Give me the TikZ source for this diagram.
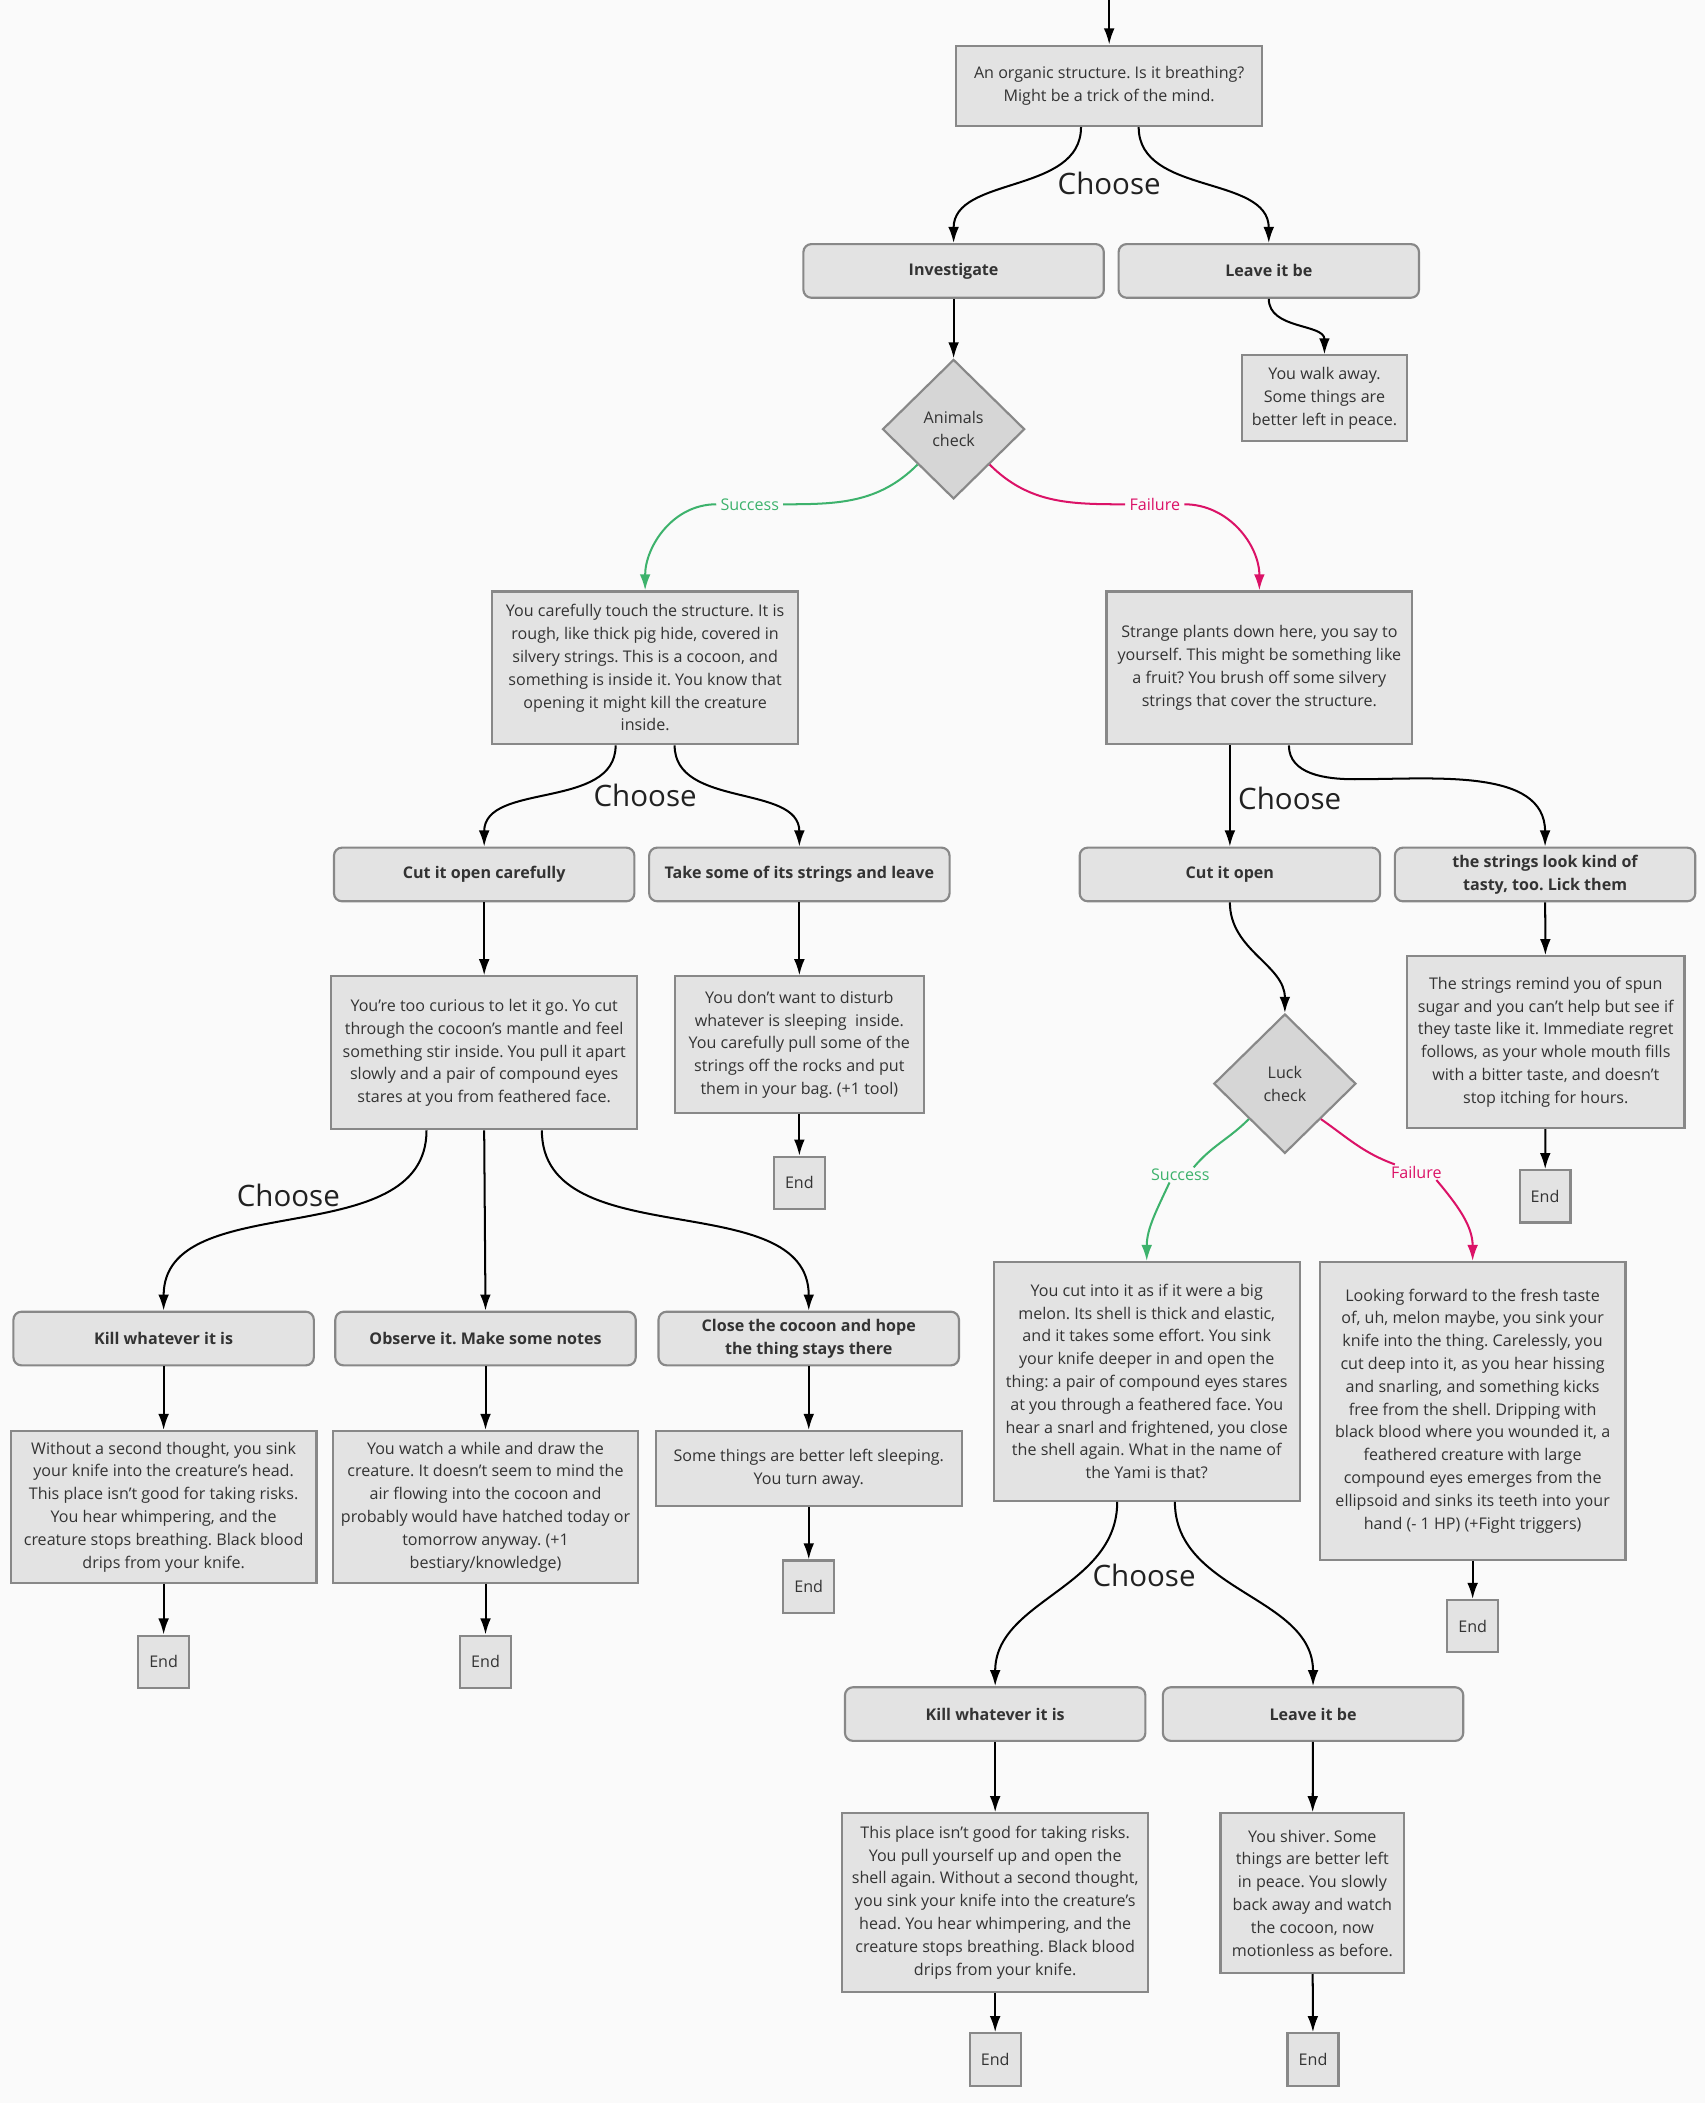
\documentclass[tikz,border=0pt]{standalone}
\usepackage{fontspec}
\setmainfont{Open Sans}
\usetikzlibrary{shapes.geometric,arrows.meta}
\definecolor{bgc}{RGB}{250,250,250}
\definecolor{boxfill}{RGB}{227,227,227}
\definecolor{checkfill}{RGB}{214,214,214}
\definecolor{boxline}{RGB}{136,136,136}
\definecolor{txt}{RGB}{51,51,51}
\definecolor{okgreen}{RGB}{61,178,108}
\definecolor{badpink}{RGB}{219,18,103}
\frenchspacing
\begin{document}
\begin{tikzpicture}[x=1pt,y=-1pt,
  story/.style={rectangle,draw=boxline,fill=boxfill,line width=1.6pt,text=txt,align=center,inner sep=0pt,
    font=\fontsize{12pt}{17pt}\selectfont},
  pick/.style={story,rounded corners=6pt,minimum width=224pt,minimum height=40pt,
    font=\fontsize{12pt}{17pt}\selectfont\bfseries},
  endbox/.style={story,minimum width=38pt,minimum height=39pt},
  check/.style={diamond,draw=boxline,fill=checkfill,line width=1.6pt,text=txt,align=center,inner sep=0pt,
    minimum width=106pt,minimum height=104pt,font=\fontsize{12pt}{17pt}\selectfont},
  choose/.style={text=black!87,inner sep=0pt,font=\fontsize{22pt}{26pt}\selectfont},
  okword/.style={text=okgreen,inner xsep=3pt,inner ysep=1pt,font=\fontsize{12pt}{14pt}\selectfont},
  badword/.style={text=badpink,inner xsep=3pt,inner ysep=1pt,font=\fontsize{12pt}{14pt}\selectfont},
  flow/.style={line width=1.5pt,-{Latex[length=12pt,width=8pt]}},
  okline/.style={draw=okgreen,line width=1.5pt},
  badline/.style={draw=badpink,line width=1.5pt},
  okflow/.style={okline,-{Latex[length=12pt,width=8pt]}},
  badflow/.style={badline,-{Latex[length=12pt,width=8pt]}}]
\fill[bgc] (0,0) rectangle (1271,1568);
\useasboundingbox (0,0) rectangle (1271,1568);

% start
\coordinate (entry) at (827,0);
\node[story,minimum width=228pt,minimum height=60pt] (organic) at (827,64)
  {An organic structure. Is it breathing?\\Might be a trick of the mind.};
\node[choose] (choose1) at (827,137) {Choose};
\node[pick] (investigate) at (711,202) {Investigate};
\node[pick] (leave) at (946,202) {Leave it be};
\node[story,minimum width=123pt,minimum height=64pt] (walk) at (987.5,297)
  {You walk away.\\Some things are\\better left in peace.};
\node[check] (animals) at (711,320) {Animals\\check};
\node[okword] (animalsok) at (559,376) {Success};
\node[badword] (animalsbad) at (861,376) {Failure};

% success side
\node[story,minimum width=228pt,minimum height=114pt] (touch) at (481,498)
  {You carefully touch the structure. It is\\rough, like thick pig hide, covered in\\silvery strings. This is a cocoon, and\\something is inside it. You know that\\opening it might kill the creature\\inside.};
\node[choose] (choose2) at (481,593) {Choose};
\node[pick] (cutcare) at (361,652) {Cut it open carefully};
\node[pick] (take) at (596,652) {Take some of its strings and leave};
\node[story,minimum width=228pt,minimum height=114pt] (curious) at (361,785)
  {You're too curious to let it go. Yo cut\\through the cocoon's mantle and feel\\something stir inside. You pull it apart\\slowly and a pair of compound eyes\\stares at you from feathered face.};
\node[story,minimum width=186pt,minimum height=102pt] (disturb) at (596,779)
  {You don't want to disturb\\whatever is sleeping\ \ inside.\\You carefully pull some of the\\strings off the rocks and put\\them in your bag. (+1 tool)};
\node[endbox] (end1) at (596,882) {End};
\node[choose] (choose3) at (215,891) {Choose};
\node[pick] (kill) at (122,998) {Kill whatever it is};
\node[pick] (observe) at (362,998) {Observe it. Make some notes};
\node[pick] (close) at (603,998) {Close the cocoon and hope\\the thing stays there};
\node[story,minimum width=228pt,minimum height=113pt] (sink) at (122,1123.5)
  {Without a second thought, you sink\\your knife into the creature's head.\\This place isn't good for taking risks.\\You hear whimpering, and the\\creature stops breathing. Black blood\\drips from your knife.};
\node[story,minimum width=228pt,minimum height=113pt] (watch) at (362,1123.5)
  {You watch a while and draw the\\creature. It doesn't seem to mind the\\air flowing into the cocoon and\\probably would have hatched today or\\tomorrow anyway. (+1\\bestiary/knowledge)};
\node[story,minimum width=228pt,minimum height=56pt] (sleeping) at (603,1095)
  {Some things are better left sleeping.\\You turn away.};
\node[endbox] (end2) at (122,1239) {End};
\node[endbox] (end3) at (362,1239) {End};
\node[endbox] (end4) at (603,1183) {End};

% failure side
\node[story,minimum width=228pt,minimum height=114pt] (plants) at (939,498)
  {Strange plants down here, you say to\\yourself. This might be something like\\a fruit? You brush off some silvery\\strings that cover the structure.};
\node[choose,anchor=west] (choose4) at (923,595) {Choose};
\node[pick] (cutopen) at (917,652) {Cut it open};
\node[pick] (lick) at (1152,652) {the strings look kind of\\tasty, too. Lick them};
\node[story,minimum width=207pt,minimum height=128pt] (sugar) at (1152.5,777)
  {The strings remind you of spun\\sugar and you can't help but see if\\they taste like it. Immediate regret\\follows, as your whole mouth fills\\with a bitter taste, and doesn't\\stop itching for hours.};
\node[endbox] (end5) at (1152,892) {End};
\node[check] (luck) at (958,808) {Luck\\check};
\node[okword] (luckok) at (880,876) {Success};
\node[badword] (luckbad) at (1056,874) {Failure};
\node[story,minimum width=228pt,minimum height=178pt] (melon) at (855,1030)
  {You cut into it as if it were a big\\melon. Its shell is thick and elastic,\\and it takes some effort. You sink\\your knife deeper in and open the\\thing: a pair of compound eyes stares\\at you through a feathered face. You\\hear a snarl and frightened, you close\\the shell again. What in the name of\\the Yami is that?};
\node[story,minimum width=228pt,minimum height=222pt] (forward) at (1098,1052)
  {Looking forward to the fresh taste\\of, uh, melon maybe, you sink your\\knife into the thing. Carelessly, you\\cut deep into it, as you hear hissing\\and snarling, and something kicks\\free from the shell. Dripping with\\black blood where you wounded it, a\\feathered creature with large\\compound eyes emerges from the\\ellipsoid and sinks its teeth into your\\hand (- 1 HP) (+Fight triggers)};
\node[endbox] (end6) at (1098,1212.5) {End};
\node[choose] (choose5) at (853,1175) {Choose};
\node[pick] (kill2) at (742,1278) {Kill whatever it is};
\node[pick] (leave2) at (979,1278) {Leave it be};
\node[story,minimum width=228pt,minimum height=133pt] (risks) at (742,1418.5)
  {This place isn't good for taking risks.\\You pull yourself up and open the\\shell again. Without a second thought,\\you sink your knife into the creature's\\head. You hear whimpering, and the\\creature stops breathing. Black blood\\drips from your knife.};
\node[story,minimum width=137pt,minimum height=119pt] (shiver) at (978.5,1411.5)
  {You shiver. Some\\things are better left\\in peace. You slowly\\back away and watch\\the cocoon, now\\motionless as before.};
\node[endbox] (end7) at (742,1535.5) {End};
\node[endbox] (end8) at (979,1535.5) {End};

% connectors
\draw[flow] (entry) -- (organic);
\draw[flow] ([xshift=-21pt]organic.south) to[out=-90,in=90] (investigate.north);
\draw[flow] ([xshift=22pt]organic.south) to[out=-90,in=90] (leave.north);
\draw[flow] (leave.south) to[out=-90,in=90] (walk.north);
\draw[flow] (investigate) -- (animals);
\draw[okline] (animals.south west) to[out=-135,in=0] (animalsok.east);
\draw[okflow] (animalsok.west) to[out=180,in=90] (touch.north);
\draw[badline] (animals.south east) to[out=-45,in=180] (animalsbad.west);
\draw[badflow] (animalsbad.east) to[out=0,in=90] (plants.north);

\draw[flow] ([xshift=-22pt]touch.south) to[out=-90,in=90] (cutcare.north);
\draw[flow] ([xshift=22pt]touch.south) to[out=-90,in=90] (take.north);
\draw[flow] (cutcare) -- (curious);
\draw[flow] (take) -- (disturb);
\draw[flow] (disturb) -- (end1);
\draw[flow] ([xshift=-43pt]curious.south) to[out=-90,in=90] (kill.north);
\draw[flow] (curious.south) -- (observe.north);
\draw[flow] ([xshift=43pt]curious.south) to[out=-90,in=90] (close.north);
\draw[flow] (kill) -- (sink);
\draw[flow] (sink) -- (end2);
\draw[flow] (observe) -- (watch);
\draw[flow] (watch) -- (end3);
\draw[flow] (close) -- (sleeping);
\draw[flow] (sleeping) -- (end4);

\draw[flow] ([xshift=-22pt]plants.south) -- (cutopen.north);
\draw[flow] ([xshift=22pt]plants.south) to[out=-90,in=180] (1010,581) to[out=0,in=90] (lick.north);
\draw[flow] (lick) -- (sugar);
\draw[flow] (sugar) -- (end5);
\draw[flow] (cutopen.south) to[out=-90,in=90] (luck.north);
\draw[okline] (luck.south west) to[out=-135,in=50] ([xshift=10pt]luckok.north);
\draw[okflow] ([xshift=-8pt]luckok.south) to[out=-115,in=90] (melon.north);
\draw[badline] (luck.south east) to[out=-35,in=160] ([xshift=-16pt]luckbad.north);
\draw[badflow] ([xshift=15pt]luckbad.south) to[out=-50,in=90] (forward.north);
\draw[flow] (forward) -- (end6);
\draw[flow] ([xshift=-22pt]melon.south) to[out=-90,in=90] (kill2.north);
\draw[flow] ([xshift=21pt]melon.south) to[out=-90,in=90] (leave2.north);
\draw[flow] (kill2) -- (risks);
\draw[flow] (risks) -- (end7);
\draw[flow] (leave2) -- (shiver);
\draw[flow] (shiver) -- (end8);
\end{tikzpicture}
\end{document}
